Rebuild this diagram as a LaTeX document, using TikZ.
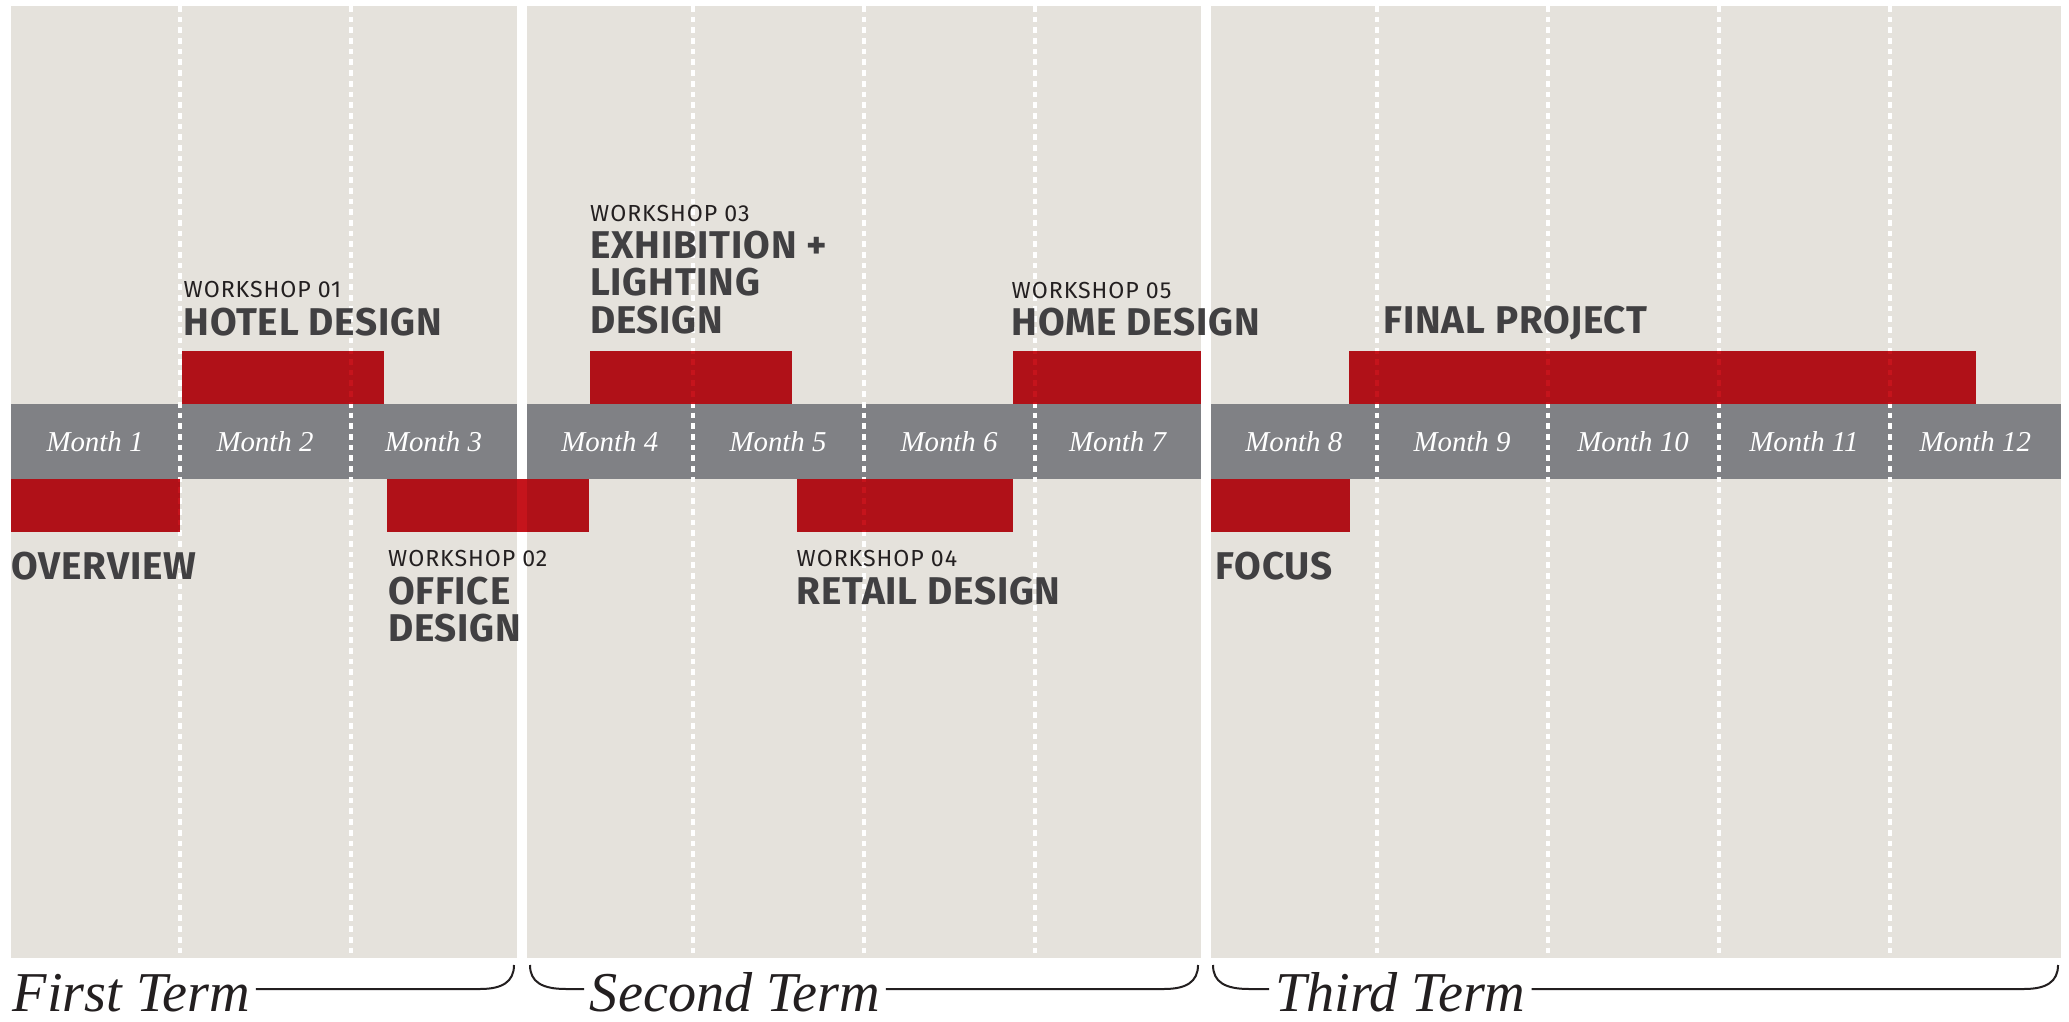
\documentclass[tikz,border=0pt]{standalone}
\usepackage{fontspec}
\setmainfont{Liberation Serif}
\newfontfamily\dinfont{Fira Sans}[LetterSpace=2]
\newfontfamily\dinlight{Fira Sans}[LetterSpace=4]
\usetikzlibrary{positioning}
\definecolor{paper}{HTML}{E5E2DC}
\definecolor{band}{HTML}{808185}
\definecolor{barred}{HTML}{C5141C}
\definecolor{ink}{HTML}{414042}
\definecolor{termink}{HTML}{231F20}
\tikzstyle{monthlabel}=[text=white, font=\fontsize{8.2}{10}\selectfont\itshape, inner sep=0pt, anchor=base]
\tikzstyle{wslabel}=[text=termink, font=\dinlight\fontsize{6.6}{8}\selectfont, inner sep=0pt, anchor=base west]
\tikzstyle{wstitle}=[text=ink, font=\dinfont\bfseries\fontsize{11}{11}\selectfont, inner sep=0pt, anchor=base west]
\tikzstyle{termlabel}=[text=termink, font=\fontsize{16}{18}\selectfont\itshape, inner xsep=1.5pt, inner ysep=0pt, anchor=base west]
\tikzstyle{termline}=[draw=termink, line width=0.2mm]
\tikzstyle{monthsep}=[white, line width=0.4mm, dash pattern=on 0.57mm off 0.5mm]

\begin{document}
\begin{tikzpicture}[x=0.1mm, y=-0.1mm]

  \def\dx{8.5};
  \def\u{171};
  \def\ytop{6};
  \def\ybot{958};

  \useasboundingbox (0,0) rectangle (2069,1022);
  \fill[white] (0,0) rectangle (2069,1022);

  % three terms, grey month band, month separators
  \foreach \a/\b in {10.5/516.5, 527/1200.5, 1211/2061}
     \fill[paper] (\a,\ytop) rectangle (\b,\ybot);
  \foreach \a/\b in {10.5/516.5, 527/1200.5, 1211/2061}
     \fill[band] (\a,404) rectangle (\b,479);
  \foreach \i in {1,2,4,5,6,8,9,10,11}
     \draw[monthsep] (\dx+\i*\u,\ytop) -- (\dx+\i*\u,\ybot);

  \begin{scope}[blend mode=multiply]
  \foreach \a/\b/\y in {10.5/179.5/479, 182/384/351, 387/589/479, 589.5/791.5/351, 796.5/1013/479, 1013/1200.5/351, 1211/1350/479, 1349/1976/351}
     \fill[barred] (\a,\y) rectangle (\b,\y+53.5);
  \end{scope}

  \foreach \x/\n in {95/1, 265/2, 433.5/3, 609.75/4, 778/5, 949/6, 1117.5/7, 1293.75/8, 1462/9, 1633/10, 1804/11, 1975.25/12}
     \node[monthlabel] (m\n) at (\x,452) {Month \n};

  % workshops above the band
  \node[wslabel] (ws1) at (183,298) {WORKSHOP 01};
  \node[wstitle] (hotel) at (183,335.5) {HOTEL DESIGN};
  \node[wslabel] (ws3) at (589.5,222) {WORKSHOP 03};
  \foreach \y/\name/\txt in {259/exhA/EXHIBITION +, 296/exhB/LIGHTING, 333.5/exhC/DESIGN}
     \node[wstitle] (\name) at (589.5,\y) {\txt};
  \node[wslabel] (ws5) at (1011,298.5) {WORKSHOP 05};
  \node[wstitle] (home) at (1011,335.5) {HOME DESIGN};
  \node[wstitle] (final) at (1383,334) {FINAL PROJECT};

  % workshops below the band
  \node[wstitle] (overview) at (11,580) {OVERVIEW};
  \node[wslabel] (ws2) at (387.5,566.5) {WORKSHOP 02};
  \node[wstitle] (officeA) at (387.5,604.5) {OFFICE};
  \node[wstitle] (officeB) at (387.5,641.5) {DESIGN};
  \node[wslabel] (ws4) at (796,566.5) {WORKSHOP 04};
  \node[wstitle] (retail) at (796,604.5) {RETAIL DESIGN};
  \node[wstitle] (focus) at (1215,580) {FOCUS};

  % terms
  \node[termlabel] (first) at (7,1011) {First Term};
  \node[termlabel] (second) at (584,1011) {Second Term};
  \node[termlabel] (third) at (1269,1011) {Third Term};

  \draw[termline] (first.east |- 0,989) -- (480,989) .. controls (502,989) and (514,982) .. (514,965);
  \draw[termline] (530,965) .. controls (530,982) and (542,989) .. (566,989) -- (second.west |- 0,989);
  \draw[termline] (second.east |- 0,989) -- (1164,989) .. controls (1186,989) and (1198,982) .. (1198,965);
  \draw[termline] (1213,965) .. controls (1213,982) and (1225,989) .. (1249,989) -- (third.west |- 0,989);
  \draw[termline] (third.east |- 0,989) -- (2024,989) .. controls (2046,989) and (2058,982) .. (2058,965);

\end{tikzpicture}
\end{document}
